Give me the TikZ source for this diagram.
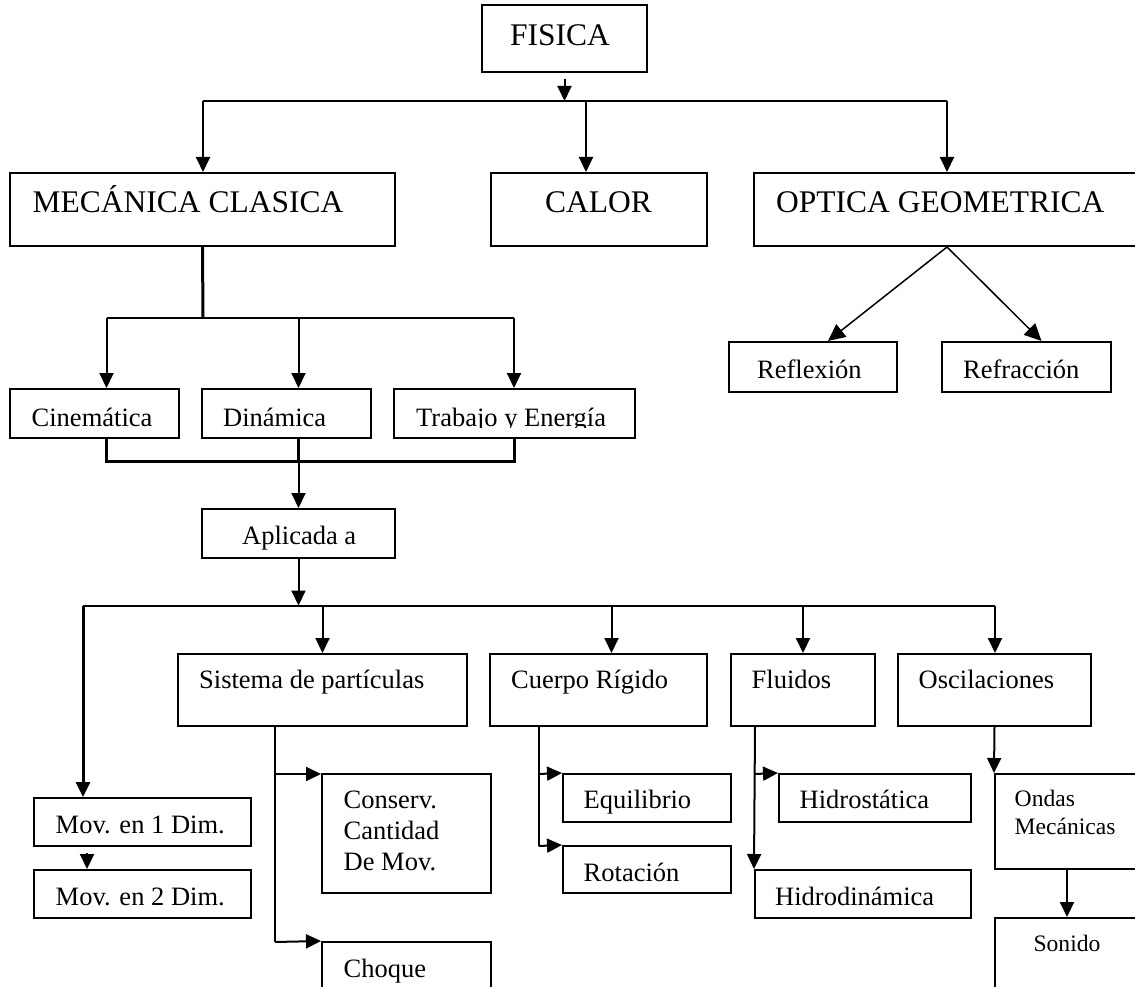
\documentclass[tikz,border=0pt]{standalone}
\usepackage{fontspec}
\setmainfont{Liberation Serif}
\usetikzlibrary{arrows.meta, fit}

\tikzset{
  caja/.style={draw, line width=2pt, inner sep=0pt},
  linea/.style={line width=2pt},
  gruesa/.style={line width=3pt},
  flecha/.style={line width=2pt, -{Triangle[length=15pt, width=14pt]}},
  diag/.style={line width=1.5pt, -{Triangle[length=17pt, width=16pt]}},
  grande/.style={font=\fontsize{31.5}{36}\selectfont, inner sep=0pt, anchor=base west},
  mediano/.style={font=\fontsize{26.5}{31}\selectfont, inner sep=0pt, anchor=base west},
  chico/.style={font=\fontsize{23.6}{27.6}\selectfont, inner sep=0pt, anchor=base west}
}

\begin{document}
\begin{tikzpicture}[x=1pt, y=-1pt]
	\useasboundingbox (0,0) rectangle (1135,987);
	
	%boxes
	\node[caja, fit={(482,5) (647,72)}] (fisica) {};
	\node[caja, fit={(10,173) (395,246)}] (mecanica) {};
	\node[caja, fit={(491,173) (707,246)}] (calor) {};
	\node[caja, fit={(754,173) (1140,246)}] (optica) {};
	\node[caja, fit={(729,342) (897,392)}] (reflexion) {};
	\node[caja, fit={(942,342) (1111,392)}] (refraccion) {};
	\node[caja, fit={(10,389) (179,438)}] (cinematica) {};
	\node[caja, fit={(202,389) (371,438)}] (dinamica) {};
	\node[caja, fit={(394,389) (635,438)}] (trabajo) {};
	\node[caja, fit={(202,509) (395,558)}] (aplicada) {};
	\node[caja, fit={(178,654) (467,726)}] (sistema) {};
	\node[caja, fit={(490,654) (707,726)}] (cuerpo) {};
	\node[caja, fit={(731,654) (875,726)}] (fluidos) {};
	\node[caja, fit={(898,654) (1091,726)}] (oscilaciones) {};
	\node[caja, fit={(34,798) (251,846)}] (mov1) {};
	\node[caja, fit={(34,870) (251,918)}] (mov2) {};
	\node[caja, fit={(322,774) (491,893)}] (conserv) {};
	\node[caja, fit={(322,942) (491,1010)}] (choque) {};
	\node[caja, fit={(563,774) (731,822)}] (equilibrio) {};
	\node[caja, fit={(563,846) (731,893)}] (rotacion) {};
	\node[caja, fit={(779,774) (971,822)}] (hidrostatica) {};
	\node[caja, fit={(755,870) (971,918)}] (hidrodinamica) {};
	\node[caja, fit={(995,774) (1139,869)}] (ondas) {};
	\node[caja, fit={(995,918) (1139,1010)}] (sonido) {};
	
	%texts
	\node[grande] (t-fisica) at (510,46) {FISICA};
	\node[grande] (t-mecanica) at (32.5,213) {MECÁNICA CLASICA};
	\node[grande] (t-calor) at (545,213) {CALOR};
	\node[grande] (t-optica) at (776,213) {OPTICA GEOMETRICA};
	\node[mediano] (t-reflexion) at (757,378) {Reflexión};
	\node[mediano] (t-refraccion) at (963,378) {Refracción};
	\node[mediano] (t-cinematica) at (31.5,426) {Cinemática};
	\node[mediano] (t-dinamica) at (223,426) {Dinámica};
	\begin{scope}
		\clip (394,389) rectangle (635,427.5);
		\node[mediano] (t-trabajo) at (416,426) {Trabajo y Energía};
	\end{scope}
	\node[mediano] (t-aplicada) at (242,544) {Aplicada a};
	\node[mediano] (t-sistema) at (199,688) {Sistema de partículas};
	\node[mediano] (t-cuerpo) at (511,688) {Cuerpo Rígido};
	\node[mediano] (t-fluidos) at (751.5,688) {Fluidos};
	\node[mediano] (t-oscilaciones) at (918.5,688) {Oscilaciones};
	\node[mediano] (t-mov1) at (55.5,833) {Mov. en 1 Dim.};
	\node[mediano] (t-mov2) at (55.5,905.5) {Mov. en 2 Dim.};
	\node[mediano, align=left] (t-conserv) at (343.5,870) {Conserv.\\Cantidad\\De Mov.};
	\node[mediano] (t-choque) at (343.5,977) {Choque};
	\node[mediano] (t-equilibrio) at (583.5,808) {Equilibrio};
	\node[mediano] (t-rotacion) at (583.5,881.5) {Rotación};
	\node[mediano] (t-hidrostatica) at (799.5,808) {Hidrostática};
	\node[mediano] (t-hidrodinamica) at (775,905) {Hidrodinámica};
	\node[chico, align=left] (t-ondas) at (1014.5,834.3) {Ondas\\Mecánicas};
	\node[chico, anchor=base] (t-sonido) at (1067,951) {Sonido};
	
	%fisica branches
	\coordinate (s0) at (564.5,101);
	\coordinate (s1) at (203,101);
	\coordinate (s2) at (586,101);
	\coordinate (s3) at (947,101);
	\draw[flecha] ([yshift=-6pt]fisica.south) -- (s0);
	\draw[linea] (s1) -- (s3);
	\draw[flecha] (s1) -- (s1 |- mecanica.north);
	\draw[flecha] (s2) -- (s2 |- calor.north);
	\draw[flecha] (s3) -- (s3 |- optica.north);
	
	%optica
	\draw[diag] (optica.south) -- ([xshift=15pt]reflexion.north);
	\draw[diag] (optica.south) -- ([xshift=15pt]refraccion.north);
	
	%mecanica branches
	\coordinate (c0) at (203,318);
	\coordinate (c1) at (106.5,318);
	\coordinate (c2) at (298.5,318);
	\coordinate (c3) at (514,318);
	\draw[gruesa] (mecanica.south) -- (c0);
	\draw[linea] (c1) -- (c3);
	\draw[flecha] (c1) -- (c1 |- cinematica.north);
	\draw[flecha] (c2) -- (c2 |- dinamica.north);
	\draw[flecha] (c3) -- (c3 |- trabajo.north);
	
	%join to aplicada
	\coordinate (u1) at (106.5,461);
	\coordinate (u2) at (298.5,461);
	\coordinate (u3) at (514,461);
	\draw[gruesa] (u1 |- cinematica.south) -- (u1) -- (u3) -- (u3 |- trabajo.south);
	\draw[gruesa] (u2 |- dinamica.south) -- (u2);
	\draw[flecha] (u2) -- (u2 |- aplicada.north);
	
	%aplicada branches
	\coordinate (a0) at (298.5,605.5);
	\coordinate (a1) at (83,605.5);
	\coordinate (a2) at (322.5,605.5);
	\coordinate (a3) at (611.5,605.5);
	\coordinate (a4) at (803,605.5);
	\coordinate (a5) at (995,605.5);
	\draw[flecha] (aplicada.south) -- (a0);
	\draw[linea] (a1) -- (a5);
	\draw[flecha, line width=3pt] (a1) -- (a1 |- mov1.north);
	\draw[flecha] (a2) -- (a2 |- sistema.north);
	\draw[flecha] (a3) -- (a3 |- cuerpo.north);
	\draw[flecha] (a4) -- (a4 |- fluidos.north);
	\draw[flecha] (a5) -- (a5 |- oscilaciones.north);
	
	%mov
	\coordinate (m0) at (87,853);
	\draw[flecha] (m0) -- (m0 |- mov2.north);
	
	%sistema
	\coordinate (p1) at (275,774);
	\coordinate (p2) at (275,942);
	\draw[linea] (p1 |- sistema.south) -- (p2);
	\draw[flecha] (p1) -- (p1 -| conserv.west);
	\draw[flecha] (p2) -- (choque.north west);
	
	%cuerpo
	\coordinate (r1) at (538.5,774);
	\coordinate (r2) at (538.5,846);
	\draw[linea] (r1 |- cuerpo.south) -- (r2);
	\draw[flecha] (r1) -- (equilibrio.north west);
	\draw[flecha] (r2) -- (rotacion.north west);
	
	%fluidos
	\coordinate (f1) at (755,774);
	\draw[flecha] (f1 |- fluidos.south) -- (hidrodinamica.north west);
	\draw[flecha] (f1) -- (hidrostatica.north west);
	
	%oscilaciones
	\draw[flecha] (oscilaciones.south) -- (ondas.north west);
	\draw[flecha] (ondas.south) -- (sonido.north);
\end{tikzpicture}
\end{document}
